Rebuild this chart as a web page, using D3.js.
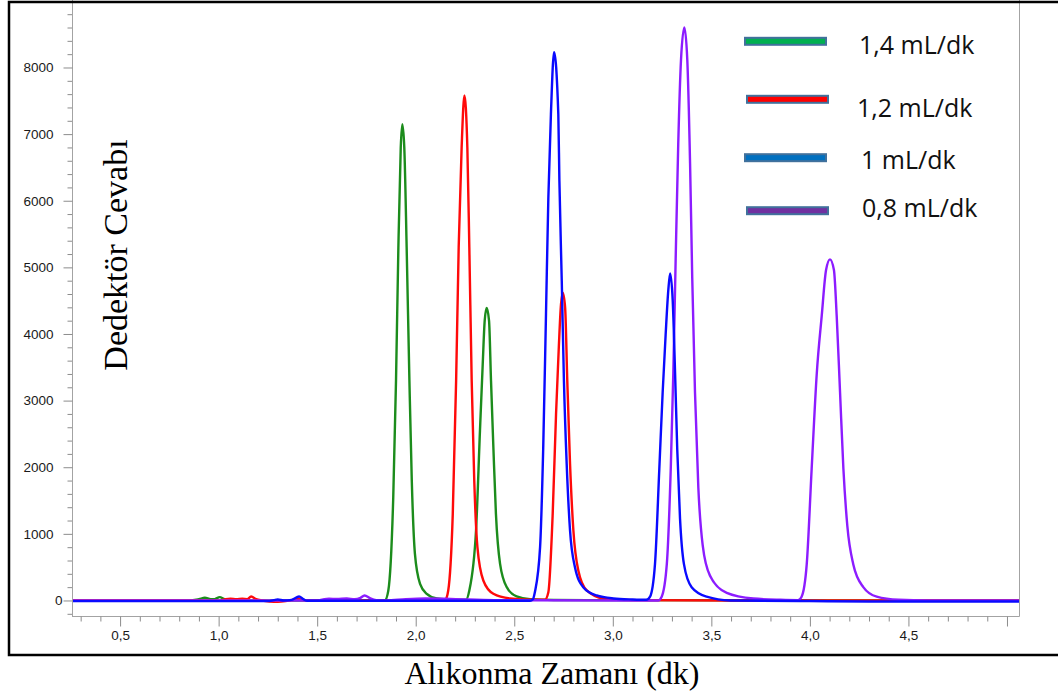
<!DOCTYPE html>
<html><head><meta charset="utf-8">
<script src="https://cdn.jsdelivr.net/npm/d3@7"></script>
<style>body{margin:0;background:#fff}svg{display:block}</style>
</head><body>
<svg id="c" width="1058" height="695"></svg>
<script>
// ---------- data (time in min, detector response) ----------
const seriesNames = ["1,4 mL/dk", "1,2 mL/dk", "1 mL/dk", "0,8 mL/dk"];
const green14 = [[0.26,0],[0.85,0],[0.90,20],[0.93,40],[0.96,20],[0.98,20],[1.005,50],[1.03,20],[1.06,3],[1.3,0],[1.8,0],[1.844,5],[1.861,150],[1.886,1550],[1.900,3300],[1.912,5300],[1.924,6800],[1.932,7150],[1.942,6800],[1.954,5300],[1.968,3300],[1.980,1800],[1.996,700],[2.022,250],[2.056,100],[2.107,30],[2.20,10],[2.255,10],[2.272,150],[2.306,1050],[2.326,2550],[2.340,3550],[2.350,4200],[2.360,4390],[2.372,4200],[2.382,3300],[2.394,2300],[2.407,1300],[2.428,550],[2.462,200],[2.512,60],[2.580,20],[2.7,8],[3.0,5],[5.07,0]];
const red12 = [[0.26,0],[1.0,0],[1.03,15],[1.06,25],[1.09,18],[1.12,25],[1.145,20],[1.165,60],[1.19,20],[1.22,0],[1.26,-15],[1.30,-20],[1.34,-10],[1.37,5],[1.40,25],[1.43,5],[1.5,0],[2.14,0],[2.150,10],[2.165,150],[2.188,1300],[2.205,3300],[2.218,5300],[2.233,6800],[2.247,7580],[2.262,6800],[2.272,5300],[2.284,3300],[2.297,1800],[2.313,800],[2.343,300],[2.394,100],[2.478,30],[2.60,10],[2.655,10],[2.673,125],[2.695,1300],[2.712,2800],[2.726,3800],[2.736,4400],[2.746,4620],[2.758,4400],[2.769,3300],[2.783,2050],[2.800,1050],[2.825,450],[2.868,150],[2.952,30],[3.1,5],[3.6,0],[5.07,0]];
const blue10 = [[0.26,-10],[1.25,-10],[1.28,5],[1.30,15],[1.33,0],[1.37,10],[1.408,60],[1.43,20],[1.45,-5],[1.6,-5],[2.58,-5],[2.595,20],[2.605,130],[2.631,800],[2.647,2300],[2.661,4300],[2.673,6050],[2.686,7300],[2.702,8230],[2.7235,7300],[2.729,6300],[2.741,4800],[2.752,3300],[2.766,2050],[2.783,1050],[2.808,500],[2.850,200],[2.918,75],[3.003,30],[3.10,15],[3.17,10],[3.189,57],[3.214,545],[3.236,1978],[3.253,3125],[3.268,3985],[3.282,4673],[3.291,4910],[3.304,4500],[3.316,3411],[3.327,2265],[3.341,1233],[3.361,545],[3.400,200],[3.476,57],[3.595,0],[4.0,-8],[4.3,-15],[5.07,-15]];
const purple08 = [[0.26,0],[1.5,0],[1.53,15],[1.56,25],[1.60,22],[1.65,30],[1.69,18],[1.72,40],[1.74,75],[1.77,30],[1.80,5],[1.85,0],[1.95,20],[2.05,30],[2.15,25],[2.25,15],[2.4,5],[3.0,0],[3.23,0],[3.248,57],[3.274,545],[3.294,1978],[3.307,3411],[3.319,5131],[3.332,6851],[3.346,8112],[3.363,8600],[3.378,8112],[3.392,6564],[3.403,4844],[3.417,3125],[3.434,1691],[3.456,831],[3.493,373],[3.578,115],[3.713,29],[3.85,10],[3.94,5],[3.958,57],[3.984,545],[4.009,1978],[4.035,3411],[4.060,4271],[4.082,4959],[4.102,5120],[4.122,4959],[4.136,4271],[4.153,3125],[4.170,1978],[4.190,1118],[4.220,545],[4.271,201],[4.339,57],[4.45,10],[4.6,0],[5.07,0]];
const yTickValues = [0,1000,2000,3000,4000,5000,6000,7000,8000];
const yTickLabels = ["0","1000","2000","3000","4000","5000","6000","7000","8000"];
const xTickValues = [0.5,1.0,1.5,2.0,2.5,3.0,3.5,4.0,4.5,5.0];
const xTickLabels = ["0,5","1,0","1,5","2,0","2,5","3,0","3,5","4,0","4,5",""];
const lineColors = ["#1c8c1c","#ff0a0a","#0a0aff","#8c1cff"];
const legendFills = ["#00b050","#ff0000","#0070c0","#7030a0"];

// ---------- layout ----------
const svg = d3.select("#c");
const L = 72, R = 1019, B = 616, T = 0;
const x = d3.scaleLinear().domain([0.256, 5.061]).range([L, R]);
const y = d3.scaleLinear().domain([-233, 9013]).range([B, T]);

// plot frame
const frameCol = "#a3a3a3";
svg.append("line").attr("x1", R+0.5).attr("x2", R+0.5).attr("y1", 0).attr("y2", B+0.5).attr("stroke", frameCol);
svg.append("line").attr("x1", L).attr("x2", R+0.5).attr("y1", B+0.5).attr("y2", B+0.5).attr("stroke", frameCol);

// y axis
const yMinor = d3.range(-200, 9000, 200).filter(v => v % 1000 !== 0);
const gy = svg.append("g").attr("transform", `translate(${L+0.5},0)`);
gy.call(d3.axisLeft(y).tickValues(yMinor).tickSize(5).tickFormat(""));
const gyM = svg.append("g").attr("transform", `translate(${L+0.5},0)`);
gyM.call(d3.axisLeft(y).tickValues(yTickValues).tickSize(9).tickPadding(10)
  .tickFormat((d,i) => yTickLabels[i]));
[gy, gyM].forEach(g => {
  g.selectAll(".domain").attr("stroke", frameCol).attr("d", `M0,0V${B}`);
  g.selectAll("line").attr("stroke", "#8c8c8c");
});
gyM.selectAll("text").attr("font-family", "Liberation Sans, Arial, sans-serif")
  .attr("font-size", 13.5).attr("fill", "#1a1a1a")
  .attr("x", d => d === 0 ? -10 : -19);

// x axis
const xMinor = d3.range(3, 51).map(v => v/10).filter(v => Math.round(v*10) % 5 !== 0);
const gx = svg.append("g").attr("transform", `translate(0,${B+0.5})`);
gx.call(d3.axisBottom(x).tickValues(xMinor).tickSize(5).tickFormat(""));
const gxM = svg.append("g").attr("transform", `translate(0,${B+0.5})`);
gxM.call(d3.axisBottom(x).tickValues(xTickValues).tickSize(10).tickPadding(4)
  .tickFormat((d,i) => xTickLabels[i]));
[gx, gxM].forEach(g => {
  g.selectAll(".domain").remove();
  g.selectAll("line").attr("stroke", "#8c8c8c");
});
gxM.selectAll("text").attr("font-family", "Liberation Sans, Arial, sans-serif")
  .attr("font-size", 13.5).attr("fill", "#1a1a1a");

// lines
svg.append("clipPath").attr("id","clip").append("rect")
  .attr("x", L+1).attr("y", 0).attr("width", R-L-1).attr("height", B);
const line = d3.line().x(d => x(d[0])).y(d => y(d[1])).curve(d3.curveMonotoneX);
const gl = svg.append("g").attr("clip-path","url(#clip)");
[green14, red12, purple08, blue10].forEach((s, i) => {
  const col = [lineColors[0], lineColors[1], lineColors[3], lineColors[2]][i];
  gl.append("path").datum(s).attr("d", line).attr("fill","none")
    .attr("stroke", col).attr("stroke-width", 2.4).attr("stroke-linejoin","round");
});

// legend
const legBars = [[744,827,41.3],[746,829,99.3],[744,827,157.7],[746,829,210.7]];
const legText = [[859,54.3],[857,116.7],[861,169.3],[862,216.7]];
seriesNames.forEach((n, i) => {
  const b = legBars[i];
  svg.append("rect").attr("x", b[0]+1).attr("y", b[2]-3.5).attr("width", b[1]-b[0]-2).attr("height", 7)
    .attr("fill", legendFills[i]).attr("stroke", "#41719c").attr("stroke-width", 2);
  svg.append("text").attr("x", legText[i][0]).attr("y", legText[i][1]).text(n)
    .attr("font-family", "Open Sans, Liberation Sans, sans-serif").attr("font-size", 25).attr("fill", "#111");
});

// axis titles
svg.append("text").attr("transform", "translate(127,255) rotate(-90)").attr("text-anchor","middle")
  .attr("font-family", "Liberation Serif, Times New Roman, serif").attr("font-size", 34).attr("fill","#000")
  .text("Dedektör Cevabı");
svg.append("text").attr("x", 552).attr("y", 684).attr("text-anchor","middle")
  .attr("font-family", "Liberation Serif, Times New Roman, serif").attr("font-size", 32).attr("fill","#000")
  .text("Alıkonma Zamanı (dk)");

// outer frame
svg.append("rect").attr("x", 9).attr("y", 2).attr("width", 1070).attr("height", 653)
  .attr("fill","none").attr("stroke","#000").attr("stroke-width", 2.5);
</script>
</body></html>
